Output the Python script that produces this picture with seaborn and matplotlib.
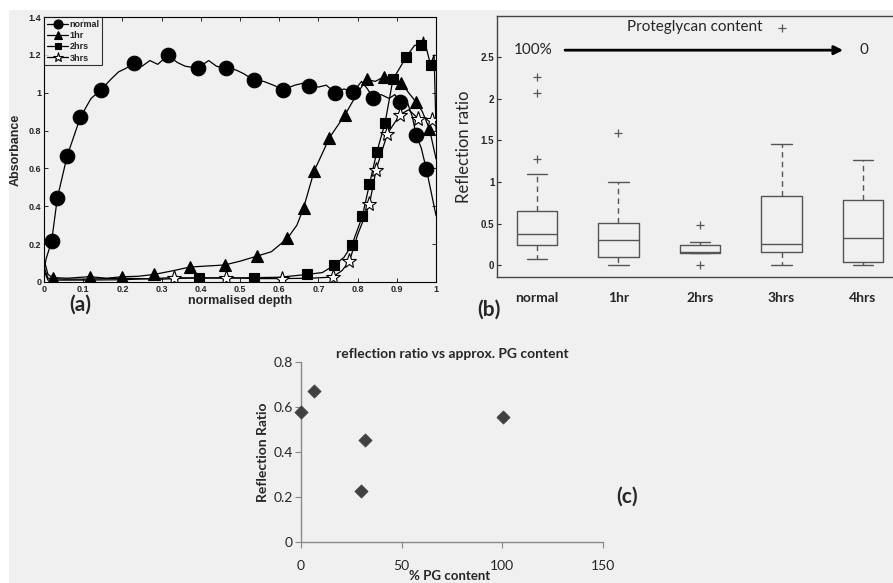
import numpy as np
import matplotlib.pyplot as plt
import seaborn as sns
from matplotlib.lines import Line2D
from matplotlib.patches import Rectangle

# (a) absorbance vs normalised depth
normal_x = [0, 0.005, 0.0195, 0.034, 0.059, 0.093, 0.12, 0.146, 0.17, 0.19, 0.21, 0.229, 0.25, 0.27, 0.29,
            0.316, 0.34, 0.36, 0.392, 0.42, 0.44, 0.464, 0.49, 0.51, 0.536, 0.56, 0.585, 0.610, 0.64, 0.66,
            0.676, 0.70, 0.72, 0.743, 0.765, 0.789, 0.81, 0.825, 0.840, 0.86, 0.88, 0.895, 0.908, 0.925,
            0.94, 0.949, 0.962, 0.975, 0.99, 1.0]
normal_y = [0.05, 0.12, 0.217, 0.444, 0.666, 0.872, 0.97, 1.016, 1.07, 1.11, 1.13, 1.157, 1.14, 1.17, 1.15,
            1.197, 1.16, 1.14, 1.13, 1.17, 1.14, 1.13, 1.12, 1.1, 1.065, 1.06, 1.04, 1.016, 1.04, 1.05,
            1.034, 1.03, 1.04, 0.998, 1.02, 1.004, 1.06, 1.02, 0.972, 0.99, 0.97, 0.99, 0.951, 0.96,
            0.87, 0.775, 0.71, 0.599, 0.45, 0.35]
normal_marks = [2, 3, 4, 5, 7, 11, 15, 18, 21, 24, 27, 30, 33, 35, 38, 42, 45, 47]

hr1_x = [0, 0.01, 0.022, 0.06, 0.116, 0.16, 0.2, 0.24, 0.281, 0.33, 0.372, 0.42, 0.461, 0.50, 0.542, 0.58,
         0.621, 0.645, 0.662, 0.689, 0.71, 0.728, 0.768, 0.80, 0.823, 0.845, 0.866, 0.89, 0.911, 0.93,
         0.949, 0.965, 0.983, 1.0]
hr1_y = [0.12, 0.04, 0.023, 0.02, 0.028, 0.02, 0.028, 0.03, 0.04, 0.06, 0.079, 0.085, 0.09, 0.11, 0.136, 0.16,
         0.231, 0.3, 0.391, 0.586, 0.68, 0.762, 0.884, 1.0, 1.07, 1.06, 1.083, 1.08, 1.053, 1.0,
         0.951, 0.9, 0.81, 0.65]
hr1_marks = [2, 4, 6, 8, 10, 12, 14, 16, 18, 19, 21, 22, 24, 26, 28, 30, 32]

hr2_x = [0, 0.01, 0.05, 0.1, 0.2, 0.3, 0.395, 0.46, 0.535, 0.6, 0.672, 0.71, 0.74, 0.765, 0.785, 0.812,
         0.830, 0.849, 0.870, 0.890, 0.924, 0.945, 0.962, 0.968, 0.986, 0.995, 1.0]
hr2_y = [0.08, 0.02, 0.015, 0.015, 0.02, 0.015, 0.023, 0.02, 0.023, 0.025, 0.04, 0.05, 0.088, 0.13, 0.194,
         0.347, 0.516, 0.687, 0.842, 1.07, 1.189, 1.25, 1.254, 1.294, 1.148, 1.2, 0.8]
hr2_marks = [6, 8, 10, 12, 14, 15, 16, 17, 18, 19, 20, 22, 24]

hr3_x = [0, 0.01, 0.1, 0.2, 0.331, 0.4, 0.465, 0.54, 0.607, 0.68, 0.736, 0.76, 0.779, 0.80, 0.830, 0.847,
         0.876, 0.908, 0.93, 0.955, 0.97, 0.989, 1.0]
hr3_y = [0.06, 0.01, 0.01, 0.012, 0.023, 0.02, 0.023, 0.018, 0.018, 0.02, 0.026, 0.06, 0.109, 0.25, 0.41,
         0.593, 0.784, 0.884, 0.91, 0.863, 0.87, 0.854, 0.86]
hr3_marks = [4, 6, 8, 10, 12, 14, 15, 16, 17, 19, 21]

a_xticks = [0, 0.1, 0.2, 0.3, 0.4, 0.5, 0.6, 0.7, 0.8, 0.9, 1.0]
a_xlabels = ["0", "0.1", "0.2", "0.3", "0.4", "0.5", "0.6", "0.7", "0.8", "0.9", "1"]
a_yticks = [0, 0.2, 0.4, 0.6, 0.8, 1.0, 1.2, 1.4]
a_ylabels = ["0", "0.2", "0.4", "0.6", "0.8", "1", "1.2", "1.4"]

# (b) reflection ratio box stats
box_labels = ["normal", "1hr", "2hrs", "3hrs", "4hrs"]
box_lo = [0.08, 0.0, 0.148, 0.0, 0.0]
box_q1 = [0.24, 0.096, 0.148, 0.16, 0.04]
box_med = [0.37, 0.30, 0.164, 0.26, 0.33]
box_q3 = [0.65, 0.51, 0.24, 0.83, 0.78]
box_hi = [1.09, 1.0, 0.28, 1.45, 1.26]
box_out = [[1.28, 2.07, 2.26], [1.59], [0.0, 0.48], [2.84], []]
b_yticks = [0, 0.5, 1, 1.5, 2, 2.5]
b_ylabels = ["0", "0.5", "1", "1.5", "2", "2.5"]

# (c) reflection ratio vs PG content
pg_content = [0, 6.6, 31.8, 29.8, 100.3]
pg_ratio = [0.577, 0.672, 0.453, 0.225, 0.555]
c_xticks = [0, 50, 100, 150]
c_yticks = [0, 0.2, 0.4, 0.6, 0.8]
c_ylabels = ["0", "0.2", "0.4", "0.6", "0.8"]

sns.set_style("ticks")
plt.rcParams["font.family"] = ["Liberation Sans", "DejaVu Sans"]
bg = "#f0f0f0"
calib = ["Lato", "DejaVu Sans"]

fig = plt.figure(figsize=(8.93, 5.83), dpi=100, facecolor="white")
fig.patches.append(Rectangle((9 / 893, 0), 1, 1 - 10 / 583, transform=fig.transFigure,
                             facecolor=bg, edgecolor="none", zorder=-10))

# ---- panel a
ax1 = fig.add_axes([0.0493, 0.5163, 0.439, 0.4545])
ax1.set_facecolor(bg)
curves = [
    ("normal", normal_x, normal_y, normal_marks, "o", 10.5, "black"),
    ("1hr", hr1_x, hr1_y, hr1_marks, "^", 8.5, "black"),
    ("2hrs", hr2_x, hr2_y, hr2_marks, "s", 7.5, "black"),
    ("3hrs", hr3_x, hr3_y, hr3_marks, "*", 11, "white"),
]
handles = []
for name, xs, ys, idx, m, ms, fc in curves:
    sns.lineplot(x=xs, y=ys, ax=ax1, color="black", lw=0.9, marker=m, markersize=ms,
                 markevery=idx, mfc=fc, mec="black", mew=0.8, estimator=None, sort=False)
    handles.append(Line2D([], [], color="black", lw=0.9, marker=m, markersize=ms * 0.62,
                          mfc=fc, mec="black", mew=0.8, label=name))
ax1.set_xlim(0, 1)
ax1.set_ylim(0, 1.4)
ax1.set_xticks(a_xticks)
ax1.set_xticklabels(a_xlabels)
ax1.set_yticks(a_yticks)
ax1.set_yticklabels(a_ylabels)
ax1.tick_params(direction="in", top=True, right=True, length=3, width=0.7, labelsize=6.5, pad=2)
for lab in ax1.get_xticklabels() + ax1.get_yticklabels():
    lab.set_fontweight("bold")
for s in ax1.spines.values():
    s.set_linewidth(0.8)
    s.set_color("black")
ax1.set_xlabel("normalised depth", fontsize=9, fontweight="bold", labelpad=1)
ax1.set_ylabel("Absorbance", fontsize=9, fontweight="bold", labelpad=5)
leg = ax1.legend(handles=handles, loc="upper left", frameon=True, fancybox=False,
                 borderpad=0.3, labelspacing=0.25, handlelength=2.4, handletextpad=0.15,
                 borderaxespad=0, prop={"weight": "bold", "size": 6.5})
leg.get_frame().set_edgecolor("black")
leg.get_frame().set_linewidth(0.8)
leg.get_frame().set_facecolor(bg)
fig.text(80 / 893, 1 - 305 / 583, "(a)", fontsize=15, family=calib, fontweight="bold",
         ha="center", va="center")

# ---- panel b
ax2 = fig.add_axes([0.5566, 0.5249, 0.45, 0.4477])
ax2.set_facecolor(bg)
stats = [dict(label=l, whislo=lo, q1=a, med=m, q3=b, whishi=hi, fliers=f)
         for l, lo, a, m, b, hi, f in zip(box_labels, box_lo, box_q1, box_med, box_q3, box_hi, box_out)]
gray = "#555555"
ax2.bxp(stats, positions=range(len(stats)), widths=0.5, capwidths=0.25, manage_ticks=False,
        boxprops=dict(color=gray, lw=1), whiskerprops=dict(color=gray, lw=1, ls=(0, (4, 3))),
        capprops=dict(color=gray, lw=1), medianprops=dict(color=gray, lw=1),
        flierprops=dict(marker="+", mec=gray, ms=5.5, mew=0.9))
ax2.set_xlim(-0.49, 4.44)
ax2.set_ylim(-0.14, 2.99)
ax2.set_xticks(range(len(box_labels)))
ax2.set_xticklabels(box_labels, family=calib, fontweight="bold", fontsize=10)
ax2.tick_params(axis="x", length=0, pad=11)
ax2.set_yticks(b_yticks)
ax2.set_yticklabels(b_ylabels, fontweight="bold", fontsize=7)
ax2.tick_params(axis="y", direction="in", length=3, width=0.8, pad=2)
for s in ax2.spines.values():
    s.set_color("#444444")
    s.set_linewidth(1)
ax2.set_ylabel("Reflection ratio", family=calib, fontsize=12, labelpad=6)
ax2.text(1.94, 2.855, "Proteglycan content", family=calib, fontsize=11, ha="center", va="center")
ax2.text(-0.05, 2.58, "100%", family=calib, fontsize=11, ha="center", va="center")
ax2.text(4.01, 2.58, "0", family=calib, fontsize=11, ha="center", va="center")
ax2.annotate("", xy=(3.79, 2.58), xytext=(0.31, 2.58),
             arrowprops=dict(arrowstyle="-|>", color="black", lw=2, mutation_scale=13))
fig.text(489 / 893, 1 - 310 / 583, "(b)", fontsize=15, family=calib, fontweight="bold",
         ha="center", va="center")

# ---- panel c
ax3 = fig.add_axes([0.3371, 0.0708, 0.3378, 0.3077])
ax3.set_facecolor(bg)
sns.scatterplot(x=pg_content, y=pg_ratio, ax=ax3, marker="D", s=45, color="#404040",
                edgecolor="#404040", clip_on=False, zorder=3)
ax3.set_xlim(0, 150)
ax3.set_ylim(0, 0.8)
ax3.set_xticks(c_xticks)
ax3.set_xticklabels([str(v) for v in c_xticks], family=calib, fontsize=10)
ax3.set_yticks(c_yticks)
ax3.set_yticklabels(c_ylabels, family=calib, fontsize=10)
ax3.tick_params(axis="x", direction="out", length=4, color="#888888", pad=9)
ax3.tick_params(axis="y", direction="out", length=4, color="#888888", pad=2)
sns.despine(ax=ax3)
for s in ["left", "bottom"]:
    ax3.spines[s].set_color("#888888")
    ax3.spines[s].set_linewidth(1)
ax3.set_ylabel("Reflection Ratio", family=calib, fontsize=10, fontweight="bold")
ax3.yaxis.set_label_coords(-0.105, 0.5)
fig.text(450 / 893, 1.5 / 583, "% PG content", family=calib, fontsize=9.5,
         fontweight="bold", ha="center", va="bottom")
ax3.set_title("reflection ratio vs approx. PG content", family=calib, fontsize=10,
              fontweight="bold", pad=3)
fig.text(627 / 893, 1 - 497 / 583, "(c)", fontsize=15, family=calib, fontweight="bold",
         ha="center", va="center")

fig.savefig("out.png", dpi=100, facecolor=fig.get_facecolor())
